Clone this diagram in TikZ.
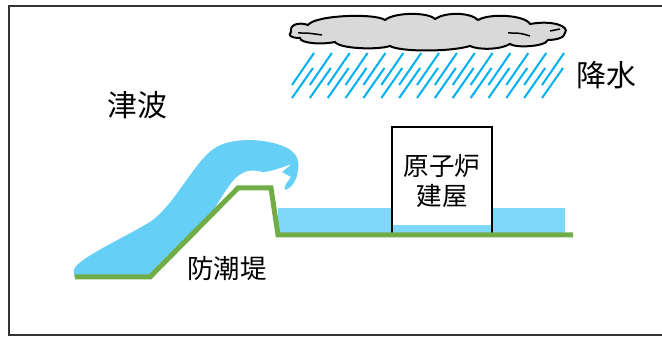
\documentclass[tikz,border=0pt]{standalone}
\usepackage{fontspec}
\newfontfamily\jpfont{Noto Sans CJK JP}
\usetikzlibrary{positioning}
\definecolor{raincol}{HTML}{00B0F0}
\definecolor{wavecol}{HTML}{66CFF5}
\definecolor{poolcol}{HTML}{80D8F8}
\definecolor{dikecol}{HTML}{70AD47}
\definecolor{cloudcol}{HTML}{D9D9D9}
\definecolor{framecol}{HTML}{333333}

\begin{document}
\begin{tikzpicture}[
  x=0.02cm, y=-0.02cm,
  lbl/.style={font=\jpfont\fontsize{17}{20}\selectfont,inner sep=0pt},
  house/.style={draw,fill=white,line width=0.04cm,minimum width=2cm,
                minimum height=2.16cm,inner sep=0pt},
  drop/.style={raincol,line width=0.04cm},
  dike/.style={dikecol,line width=0.1cm,line join=miter}
]
\useasboundingbox (0,0) rectangle (662,337);
% Frame
\draw[framecol,line width=0.04cm] (662,6) -- (9,6) -- (9,335) -- (662,335);
% Cloud
\draw[fill=cloudcol,line width=0.04cm]
  (291,32) .. controls (289,24) and (300,22) .. (308,25)
  .. controls (315,15) and (375,13) .. (385,20)
  .. controls (395,12) and (428,12) .. (435,19)
  .. controls (445,12) and (470,12) .. (478,20)
  .. controls (490,13) and (525,15) .. (530,24)
  .. controls (552,20) and (570,26) .. (565,33)
  .. controls (565,38) and (555,40) .. (548,40)
  .. controls (545,47) and (515,48) .. (510,44)
  .. controls (500,50) and (478,50) .. (470,46)
  .. controls (450,52) and (400,52) .. (390,46)
  .. controls (378,50) and (340,49) .. (335,42)
  .. controls (320,45) and (300,43) .. (300,38)
  .. controls (290,38) and (288,35) .. (291,32) -- cycle;
\draw[line width=0.03cm] (298,33) .. controls (308,33) .. (322,35);
\draw[line width=0.03cm] (508,33) .. controls (520,33) .. (530,36);
\draw[line width=0.03cm] (550,31) -- (560,29);
% Rain
\foreach \i in {0,...,14} {
  \draw[drop] (292+17.86*\i,85) -- ++(22,-32);
  \draw[drop] (292+17.86*\i,98) -- ++(21,-30);
}
% Flooded ground
\fill[poolcol] (278,208) rectangle (565,235);
% Reactor building
\node[house] (bldg) at (442,181) {};
\fill[poolcol] ([shift={(0.03cm,-0.03cm)}]bldg.south west) rectangle
  ([shift={(-0.03cm,0.22cm)}]bldg.south east);
\node[lbl,align=center,font=\jpfont\fontsize{14.5}{17}\selectfont]
  (bldgtext) at (442,181) {原子炉\\建屋};
% Tsunami wave
\fill[wavecol]
  (74,272) .. controls (70,262) and (120,240) .. (150,222)
  .. controls (175,205) and (195,160) .. (215,148)
  .. controls (230,138) and (260,138) .. (280,145)
  .. controls (295,150) and (300,158) .. (298,170)
  .. controls (297,180) and (292,188) .. (285,190)
  .. controls (283,185) and (289,181) .. (291,177)
  -- (282,172) -- (292,164)
  .. controls (280,168) and (270,172) .. (262,172)
  .. controls (250,168) and (240,172) .. (232,182)
  .. controls (222,195) and (214,210) .. (207,220)
  -- (150,277) -- (74,277) -- cycle;
% Sea wall and ground
\draw[dike] (75,277) -- (150,277) -- (238,188) -- (271,188) -- (278,235)
  -- (573,235);
% Labels
\node[lbl] (tsunami) at (137,105) {津波};
\node[lbl] (precip) at (606,75) {降水};
\node[lbl,font=\jpfont\fontsize{15}{18}\selectfont] (seawall) at (227,268) {防潮堤};
\end{tikzpicture}
\end{document}
